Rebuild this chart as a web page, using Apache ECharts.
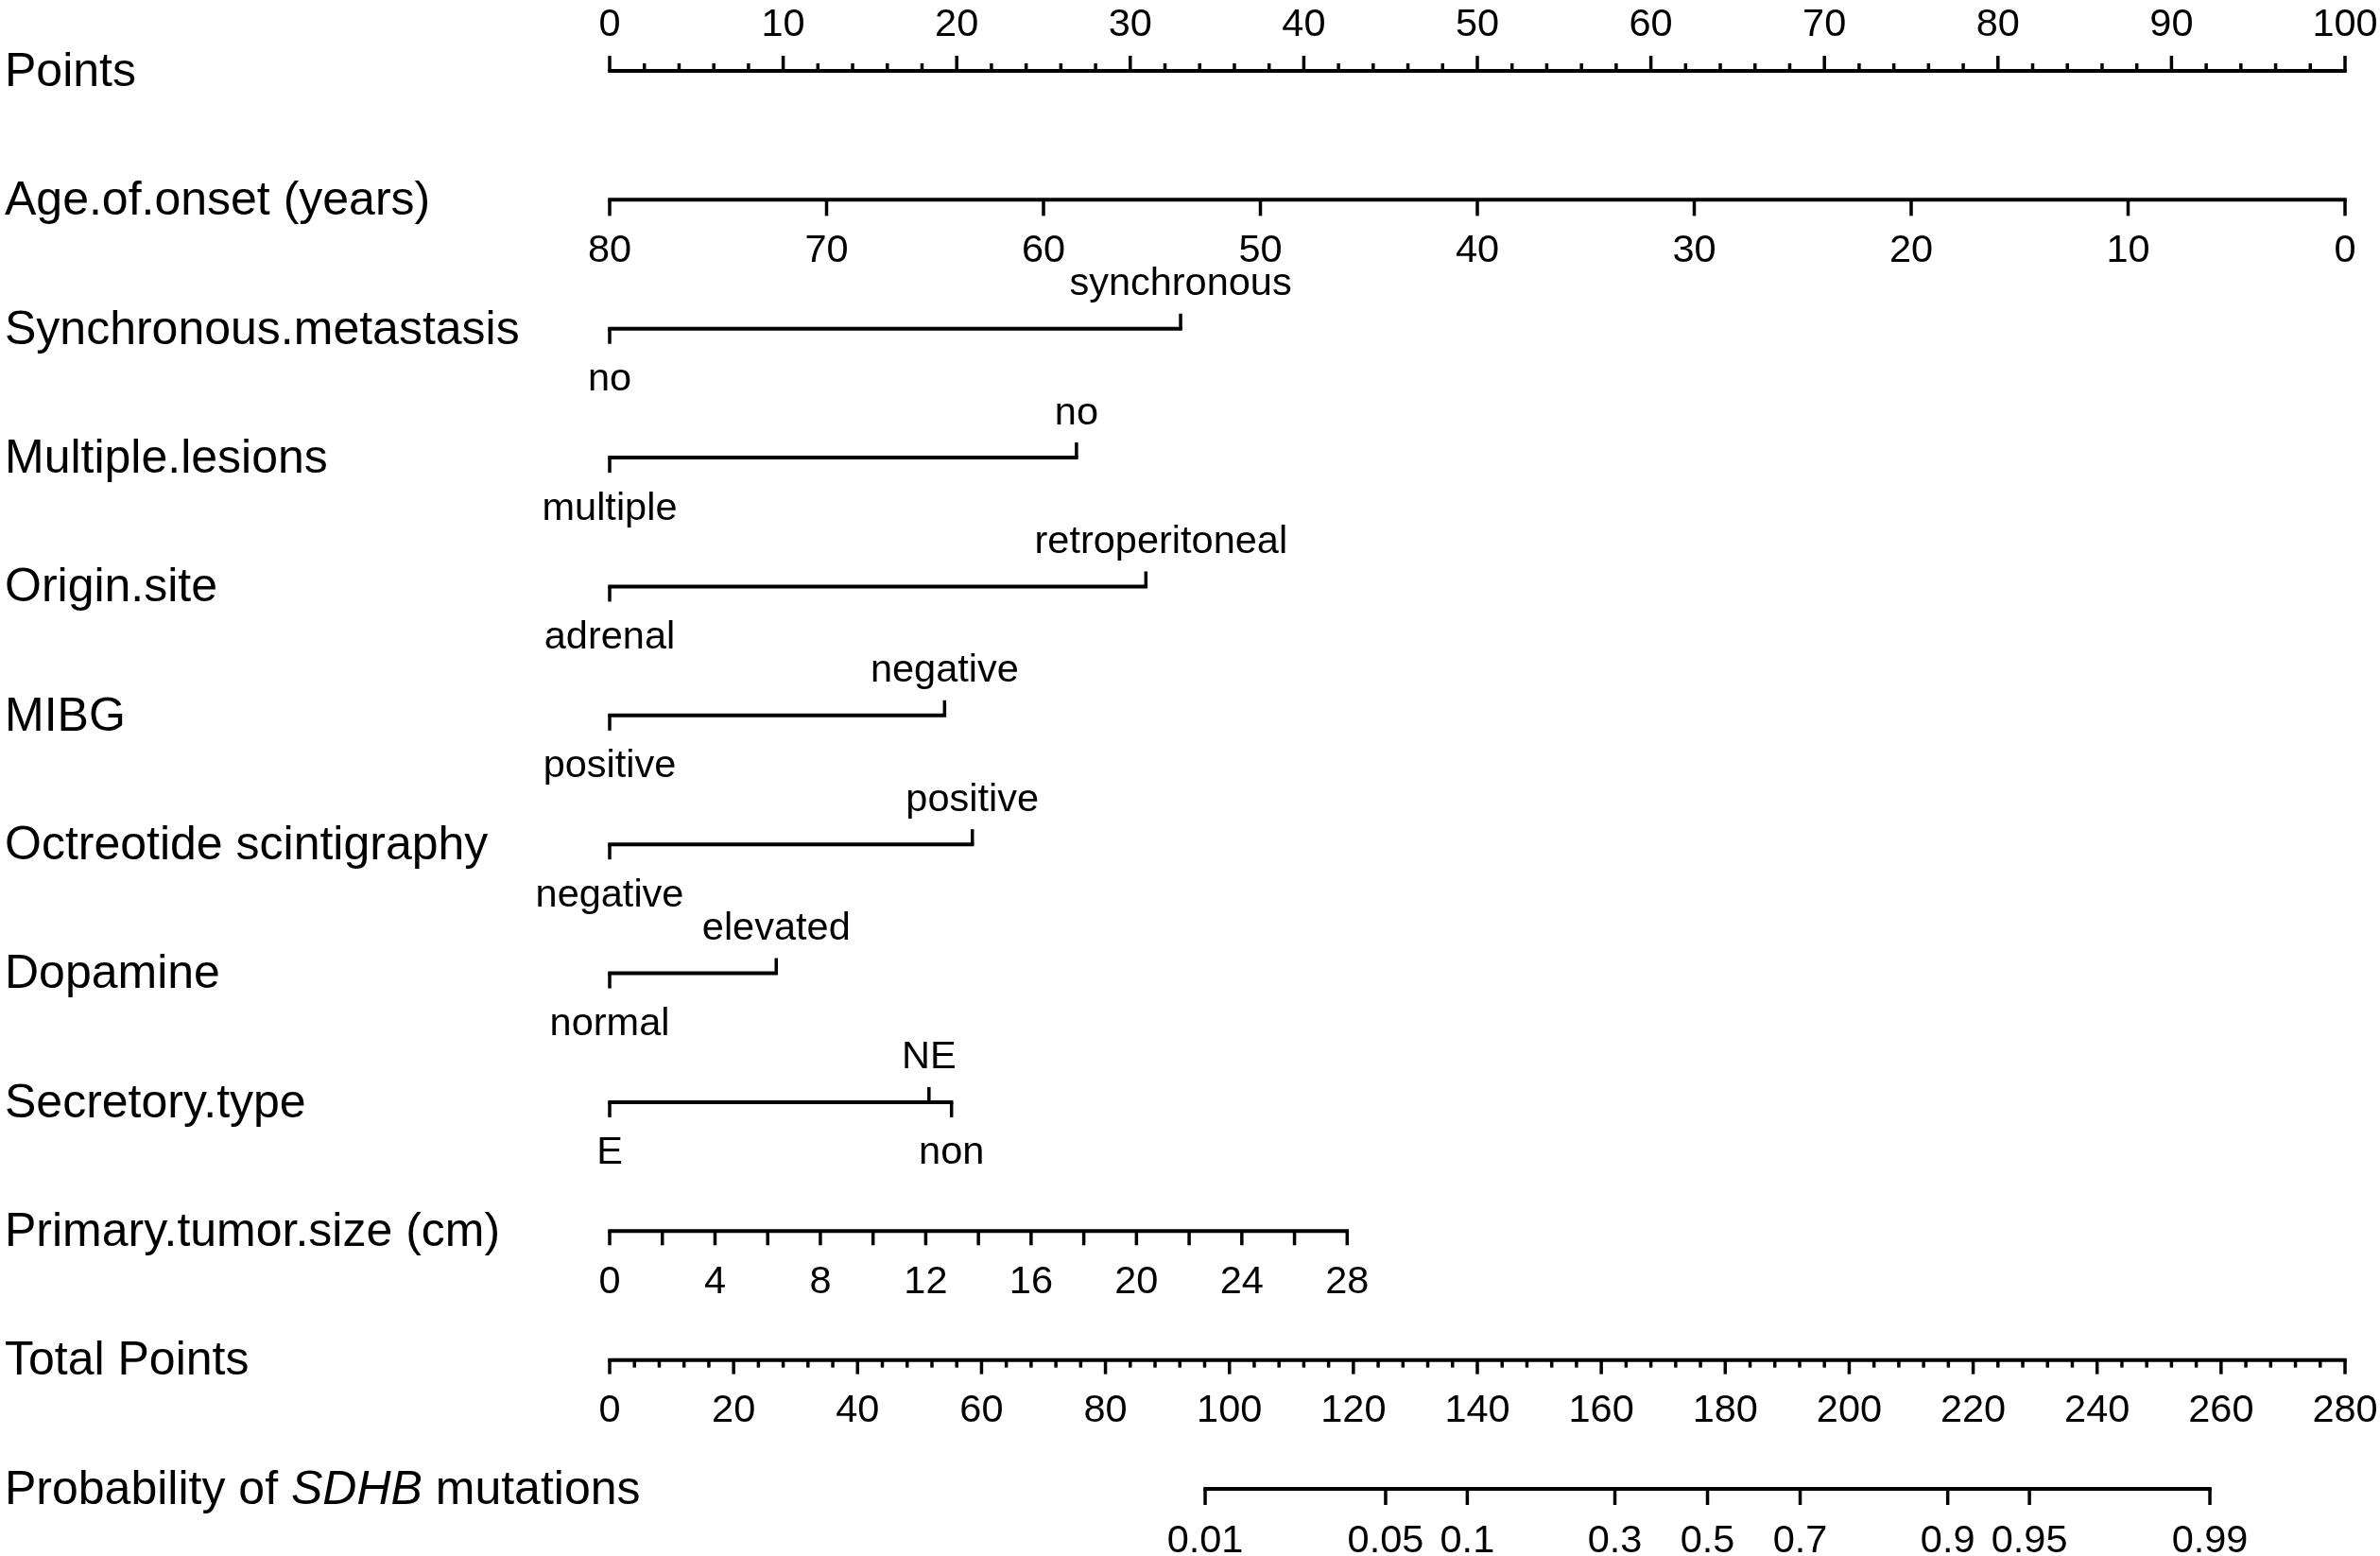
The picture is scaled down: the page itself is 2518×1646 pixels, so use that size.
<!DOCTYPE html>
<html><head><meta charset="utf-8">
<script src="https://cdn.jsdelivr.net/npm/echarts@6/dist/echarts.min.js"></script>
<style>html,body{margin:0;padding:0;background:#fff}#c{width:2518px;height:1646px}</style>
</head><body><div id="c"></div>
<script>
// ---------------- DATA ----------------
const rowTitles = ['Points', 'Age.of.onset (years)', 'Synchronous.metastasis', 'Multiple.lesions',
  'Origin.site', 'MIBG', 'Octreotide scintigraphy', 'Dopamine', 'Secretory.type',
  'Primary.tumor.size (cm)', 'Total Points', 'Probability of SDHB mutations'];

const pointsTicks = [0, 10, 20, 30, 40, 50, 60, 70, 80, 90, 100];
const pointsMinorStep = 2;

const ageTicks = [80, 70, 60, 50, 40, 30, 20, 10, 0];
const ageAtZeroPoints = 80;      // age giving 0 points
const ageAtMaxPoints = 0;        // age giving 100 points

const synchronousLevels = ['no', 'synchronous'];
const synchronousPoints = [0, 32.9];
const multipleLevels = ['multiple', 'no'];
const multiplePoints = [0, 26.9];
const originLevels = ['adrenal', 'retroperitoneal'];
const originPoints = [0, 30.9];
const mibgLevels = ['positive', 'negative'];
const mibgPoints = [0, 19.3];
const octreotideLevels = ['negative', 'positive'];
const octreotidePoints = [0, 20.9];
const dopamineLevels = ['normal', 'elevated'];
const dopaminePoints = [0, 9.6];
const secretoryLevels = ['E', 'NE', 'non'];
const secretoryPoints = [0, 18.4, 19.7];

const tumorSizeTicks = [0, 2, 4, 6, 8, 10, 12, 14, 16, 18, 20, 22, 24, 26, 28];
const tumorSizeLabels = [0, 4, 8, 12, 16, 20, 24, 28];
const tumorSizeMax = 28;
const tumorSizeMaxPoints = 42.5;

const totalPointsTicks = [0, 20, 40, 60, 80, 100, 120, 140, 160, 180, 200, 220, 240, 260, 280];
const totalPointsMinorStep = 4;
const totalPointsMax = 280;

const probabilityTicks = [0.01, 0.05, 0.1, 0.3, 0.5, 0.7, 0.9, 0.95, 0.99];
const logitIntercept = -10.042;   // logit(p) = intercept + slope * totalPoints
const logitSlope = 0.05669;

// ---------------- DRAWING ----------------
const FONT = "'Liberation Sans', Arial, Helvetica, sans-serif";
const TITLE_SIZE = 50, LABEL_SIZE = 41.5;
const LW = 4, TW = 3.5, TICK = 16, MINOR = 8;
const labelShiftPx = { retroperitoneal: 16 };   // layout nudge seen in the reference

const categoricalRows = [
  [synchronousLevels, synchronousPoints],
  [multipleLevels, multiplePoints],
  [originLevels, originPoints],
  [mibgLevels, mibgPoints],
  [octreotideLevels, octreotidePoints],
  [dopamineLevels, dopaminePoints],
  [secretoryLevels, secretoryPoints]
];

function agePts(a) { return (a - ageAtZeroPoints) / (ageAtMaxPoints - ageAtZeroPoints) * 100; }
function tumorPts(s) { return s / tumorSizeMax * tumorSizeMaxPoints; }
function totalPts(t) { return t / totalPointsMax * 100; }
function probTotal(p) { return (Math.log(p / (1 - p)) - logitIntercept) / logitSlope; }
function fmt(v) { return String(v); }

function renderAll(params, api) {
  const els = [];
  const P = (pts, row) => api.coord([pts, row]);

  function hline(row, p0, p1) {
    const a = P(p0, row), b = P(p1, row);
    els.push({ type: 'line', shape: { x1: a[0] - TW / 2, y1: a[1], x2: b[0] + TW / 2, y2: b[1] },
      style: { stroke: '#000', lineWidth: LW, lineCap: 'butt' } });
  }
  function tick(row, p, dir, len) {
    const a = P(p, row);
    els.push({ type: 'line', shape: { x1: a[0], y1: a[1], x2: a[0], y2: a[1] + dir * len },
      style: { stroke: '#000', lineWidth: TW, lineCap: 'butt' } });
  }
  function label(row, p, text, off) {
    const a = P(p, row);
    const dx = labelShiftPx[text] || 0;
    els.push({ type: 'text', style: { x: a[0] + dx, y: a[1] + off, text: text, fill: '#000',
      fontSize: LABEL_SIZE, fontFamily: FONT, align: 'center', verticalAlign: 'middle' } });
  }
  const ABOVE = -47, BELOW = 54;

  // titles
  rowTitles.forEach((t, i) => {
    const y = P(0, i)[1] + 2;
    if (i === rowTitles.length - 1) {
      els.push({ type: 'text', style: { x: 5, y: y,
        text: '{a|Probability of }{b|SDHB}{a| mutations}',
        rich: { a: { fontSize: TITLE_SIZE, fontFamily: FONT, fill: '#000' },
                b: { fontSize: TITLE_SIZE, fontFamily: FONT, fontStyle: 'italic', fill: '#000' } },
        align: 'left', verticalAlign: 'middle' } });
    } else {
      els.push({ type: 'text', style: { x: 5, y: y, text: t, fill: '#000',
        fontSize: TITLE_SIZE, fontFamily: FONT, align: 'left', verticalAlign: 'middle' } });
    }
  });

  // Row 0: Points
  hline(0, pointsTicks[0], pointsTicks[pointsTicks.length - 1]);
  for (let v = pointsTicks[0]; v <= pointsTicks[pointsTicks.length - 1] + 1e-9; v += pointsMinorStep) {
    if (pointsTicks.indexOf(v) < 0) tick(0, v, -1, MINOR);
  }
  pointsTicks.forEach(v => { tick(0, v, -1, TICK); label(0, v, fmt(v), ABOVE - 1); });

  // Row 1: Age
  hline(1, agePts(ageTicks[0]), agePts(ageTicks[ageTicks.length - 1]));
  ageTicks.forEach(a => { tick(1, agePts(a), 1, TICK + 1); label(1, agePts(a), fmt(a), BELOW); });

  // Rows 2..8: categorical
  categoricalRows.forEach((cr, k) => {
    const row = 2 + k;
    const lv = cr[0], pts = cr[1];
    hline(row, Math.min.apply(null, pts), Math.max.apply(null, pts));
    lv.forEach((name, i) => {
      const dir = i % 2 === 0 ? 1 : -1;
      tick(row, pts[i], dir, TICK);
      label(row, pts[i], name, dir > 0 ? BELOW : ABOVE);
    });
  });

  // Row 9: tumor size
  hline(9, tumorPts(tumorSizeTicks[0]), tumorPts(tumorSizeTicks[tumorSizeTicks.length - 1]));
  tumorSizeTicks.forEach(s => tick(9, tumorPts(s), 1, TICK - 1));
  tumorSizeLabels.forEach(s => label(9, tumorPts(s), fmt(s), BELOW));

  // Row 10: total points
  hline(10, totalPts(0), totalPts(totalPointsMax));
  for (let v = 0; v <= totalPointsMax + 1e-9; v += totalPointsMinorStep) {
    if (totalPointsTicks.indexOf(v) < 0) tick(10, totalPts(v), 1, MINOR);
  }
  totalPointsTicks.forEach(v => { tick(10, totalPts(v), 1, TICK - 1); label(10, totalPts(v), fmt(v), BELOW); });

  // Row 11: probability
  const pFirst = totalPts(probTotal(probabilityTicks[0]));
  const pLast = totalPts(probTotal(probabilityTicks[probabilityTicks.length - 1]));
  hline(11, pFirst, pLast);
  probabilityTicks.forEach(p => {
    const x = totalPts(probTotal(p));
    tick(11, x, 1, TICK + 1);
    label(11, x, fmt(p), 56);
  });

  return { type: 'group', children: els };
}

const chart = echarts.init(document.getElementById('c'), null, { renderer: 'canvas' });
chart.setOption({
  animation: false,
  backgroundColor: '#ffffff',
  grid: { left: 645, right: 37, top: 75, bottom: 71 },
  xAxis: { type: 'value', min: 0, max: 100, show: false },
  yAxis: { type: 'value', min: 0, max: 11, inverse: true, show: false },
  series: [{
    type: 'custom',
    clip: false,
    silent: true,
    renderItem: renderAll,
    data: [[0, 0]]
  }]
});
</script>
</body></html>
